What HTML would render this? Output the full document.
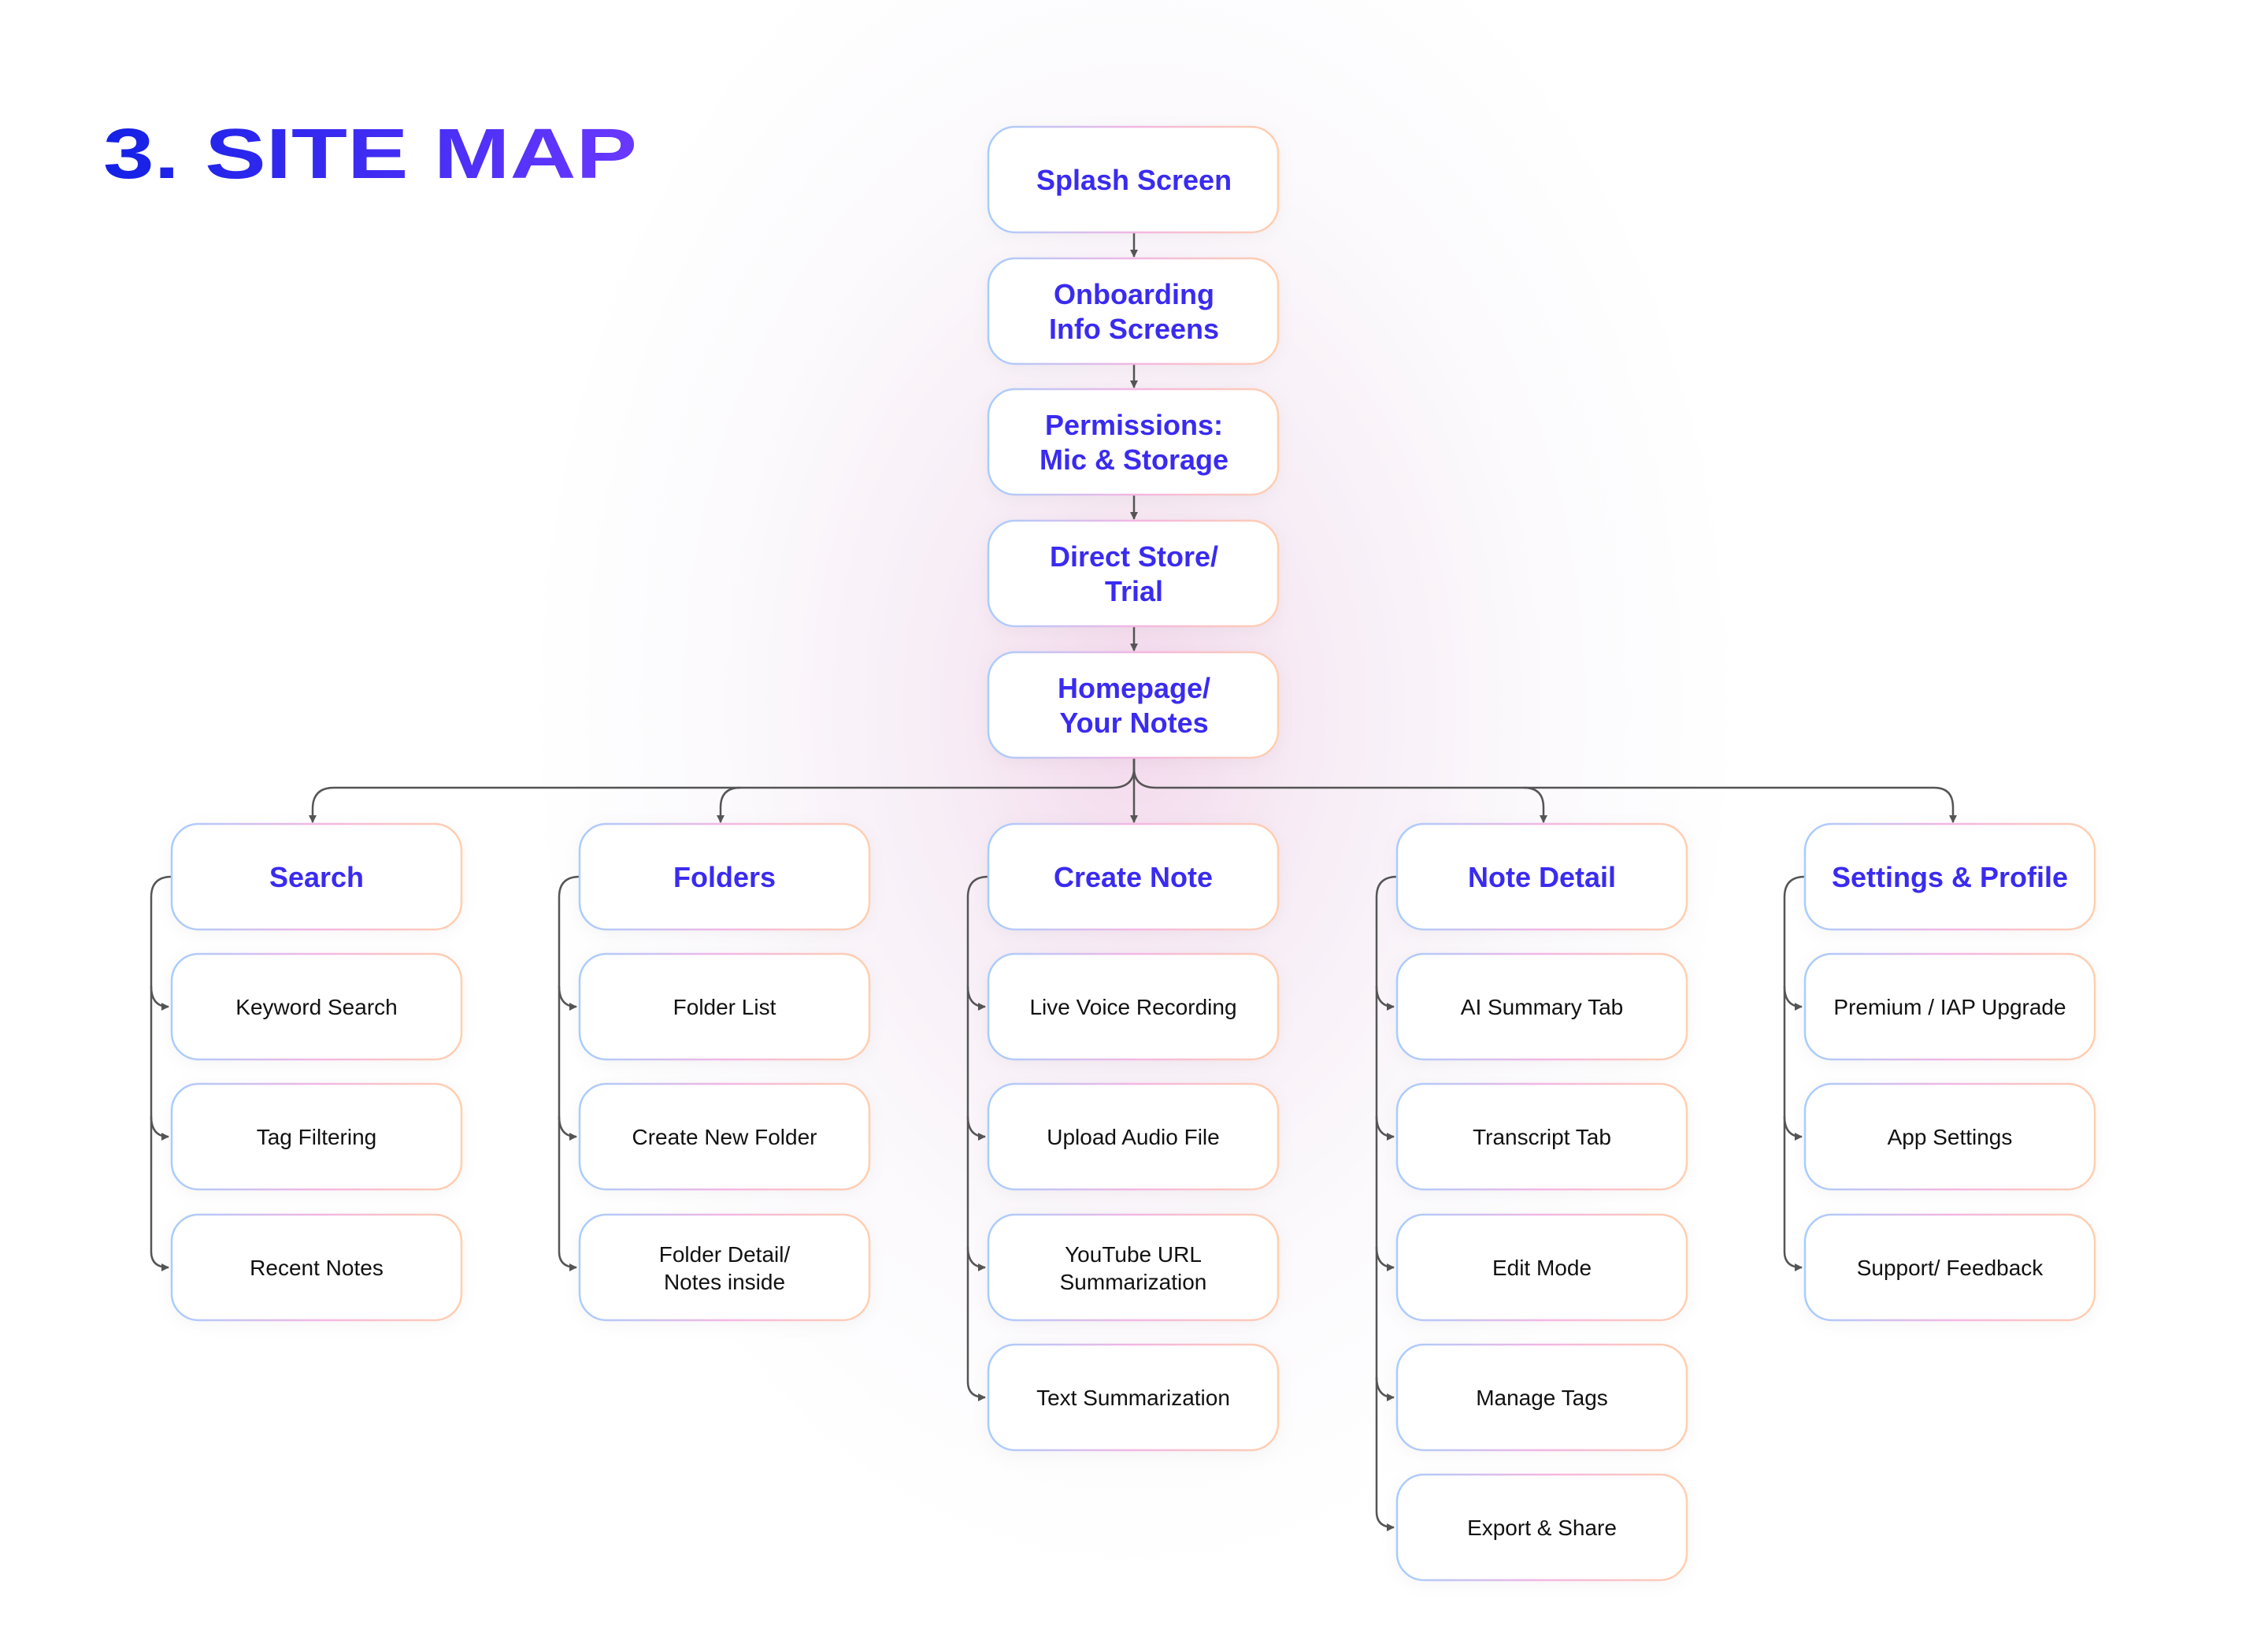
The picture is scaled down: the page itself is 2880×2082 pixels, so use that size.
<!DOCTYPE html>
<html><head><meta charset="utf-8"><style>
html,body{margin:0;padding:0;width:2880px;height:2082px;overflow:hidden;background:#fff;}
svg{display:block}
.h{font-family:"Liberation Sans",sans-serif;font-weight:bold;font-size:36px;fill:#3a2bf0;text-anchor:middle}
.c{font-family:"Liberation Sans",sans-serif;font-size:28px;fill:#111;text-anchor:middle}
.b{fill:#fff;stroke:url(#bd);stroke-width:2.5}
.l{fill:none;stroke:#555;stroke-width:2.5}
</style></head><body>
<svg width="2880" height="2082" viewBox="0 0 2880 2082" xmlns="http://www.w3.org/2000/svg">
<defs>
<radialGradient id="bg" cx="1440" cy="900" r="1100" gradientUnits="userSpaceOnUse" gradientTransform="translate(1440 900) scale(0.7 1) translate(-1440 -900)">
<stop offset="0" stop-color="#f3d8ec"/><stop offset="0.3" stop-color="#f7ecf5"/><stop offset="0.65" stop-color="#fbf9fc"/><stop offset="1" stop-color="#ffffff"/></radialGradient>
<linearGradient id="bd" x1="0" y1="0" x2="1" y2="0"><stop offset="0" stop-color="#a8cdfd"/><stop offset="0.5" stop-color="#f3b6e4"/><stop offset="1" stop-color="#ffcfae"/></linearGradient>
<linearGradient id="tt" x1="131" y1="0" x2="809" y2="0" gradientUnits="userSpaceOnUse"><stop offset="0" stop-color="#1420e6"/><stop offset="1" stop-color="#6a38ff"/></linearGradient>
<marker id="a" viewBox="0 0 10 10" refX="9" refY="5" markerWidth="4" markerHeight="4" orient="auto"><path d="M0 0L10 5L0 10z" fill="#555"/></marker>
<filter id="sh" x="-20%" y="-20%" width="140%" height="140%"><feDropShadow dx="0" dy="4" stdDeviation="10" flood-color="#000" flood-opacity="0.04"/></filter>
</defs>
<rect width="2880" height="2082" fill="url(#bg)"/>
<text x="131" y="226" textLength="678" lengthAdjust="spacingAndGlyphs" font-family="'Liberation Sans',sans-serif" font-weight="bold" font-size="90" fill="url(#tt)">3. SITE MAP</text>

<g class="l">
<path d="M1440 295V326" marker-end="url(#a)"/>
<path d="M1440 462V492" marker-end="url(#a)"/>
<path d="M1440 628V659" marker-end="url(#a)"/>
<path d="M1440 795V826" marker-end="url(#a)"/>
<path d="M1440 962V1044" marker-end="url(#a)"/>
<path d="M1440 962V975Q1440 1000 1412 1000H424Q397 1000 397 1027V1044" marker-end="url(#a)"/>
<path d="M940 1000Q915 1000 915 1025V1044" marker-end="url(#a)"/>
<path d="M1440 962V975Q1440 1000 1468 1000H2456Q2480 1000 2480 1025V1044" marker-end="url(#a)"/>
<path d="M1935 1000Q1960 1000 1960 1025V1044" marker-end="url(#a)"/>
</g>

<g filter="url(#sh)">
<rect class="b" x="1255" y="161" width="368" height="134" rx="34"/>
<rect class="b" x="1255" y="328" width="368" height="134" rx="34"/>
<rect class="b" x="1255" y="494" width="368" height="134" rx="34"/>
<rect class="b" x="1255" y="661" width="368" height="134" rx="34"/>
<rect class="b" x="1255" y="828" width="368" height="134" rx="34"/>
</g>
<text class="h" x="1440" y="241">Splash Screen</text>
<text class="h" x="1440" y="386">Onboarding</text><text class="h" x="1440" y="430">Info Screens</text>
<text class="h" x="1440" y="552">Permissions:</text><text class="h" x="1440" y="596">Mic &amp; Storage</text>
<text class="h" x="1440" y="719">Direct Store/</text><text class="h" x="1440" y="763">Trial</text>
<text class="h" x="1440" y="886">Homepage/</text><text class="h" x="1440" y="930">Your Notes</text>

<g class="l">
<path d="M218 1113Q192 1113 192 1139V1589Q192 1609 214 1609" marker-end="url(#a)"/>
<path d="M192 1252Q192 1278 214 1278" marker-end="url(#a)"/><path d="M192 1417Q192 1443 214 1443" marker-end="url(#a)"/>
<path d="M736 1113Q710 1113 710 1139V1589Q710 1609 732 1609" marker-end="url(#a)"/>
<path d="M710 1252Q710 1278 732 1278" marker-end="url(#a)"/><path d="M710 1417Q710 1443 732 1443" marker-end="url(#a)"/>
<path d="M1255 1113Q1229 1113 1229 1139V1754Q1229 1774 1251 1774" marker-end="url(#a)"/>
<path d="M1229 1252Q1229 1278 1251 1278" marker-end="url(#a)"/><path d="M1229 1417Q1229 1443 1251 1443" marker-end="url(#a)"/><path d="M1229 1583Q1229 1609 1251 1609" marker-end="url(#a)"/>
<path d="M1774 1113Q1748 1113 1748 1139V1919Q1748 1939 1770 1939" marker-end="url(#a)"/>
<path d="M1748 1252Q1748 1278 1770 1278" marker-end="url(#a)"/><path d="M1748 1417Q1748 1443 1770 1443" marker-end="url(#a)"/><path d="M1748 1583Q1748 1609 1770 1609" marker-end="url(#a)"/><path d="M1748 1748Q1748 1774 1770 1774" marker-end="url(#a)"/>
<path d="M2292 1113Q2266 1113 2266 1139V1589Q2266 1609 2288 1609" marker-end="url(#a)"/>
<path d="M2266 1252Q2266 1278 2288 1278" marker-end="url(#a)"/><path d="M2266 1417Q2266 1443 2288 1443" marker-end="url(#a)"/>
</g>

<g filter="url(#sh)">
<rect class="b" x="218" y="1046" width="368" height="134" rx="34"/><rect class="b" x="218" y="1211" width="368" height="134" rx="34"/><rect class="b" x="218" y="1376" width="368" height="134" rx="34"/><rect class="b" x="218" y="1542" width="368" height="134" rx="34"/>
<rect class="b" x="736" y="1046" width="368" height="134" rx="34"/><rect class="b" x="736" y="1211" width="368" height="134" rx="34"/><rect class="b" x="736" y="1376" width="368" height="134" rx="34"/><rect class="b" x="736" y="1542" width="368" height="134" rx="34"/>
<rect class="b" x="1255" y="1046" width="368" height="134" rx="34"/><rect class="b" x="1255" y="1211" width="368" height="134" rx="34"/><rect class="b" x="1255" y="1376" width="368" height="134" rx="34"/><rect class="b" x="1255" y="1542" width="368" height="134" rx="34"/><rect class="b" x="1255" y="1707" width="368" height="134" rx="34"/>
<rect class="b" x="1774" y="1046" width="368" height="134" rx="34"/><rect class="b" x="1774" y="1211" width="368" height="134" rx="34"/><rect class="b" x="1774" y="1376" width="368" height="134" rx="34"/><rect class="b" x="1774" y="1542" width="368" height="134" rx="34"/><rect class="b" x="1774" y="1707" width="368" height="134" rx="34"/><rect class="b" x="1774" y="1872" width="368" height="134" rx="34"/>
<rect class="b" x="2292" y="1046" width="368" height="134" rx="34"/><rect class="b" x="2292" y="1211" width="368" height="134" rx="34"/><rect class="b" x="2292" y="1376" width="368" height="134" rx="34"/><rect class="b" x="2292" y="1542" width="368" height="134" rx="34"/>
</g>

<text class="h" x="402" y="1126">Search</text>
<text class="c" x="402" y="1288">Keyword Search</text>
<text class="c" x="402" y="1453">Tag Filtering</text>
<text class="c" x="402" y="1619">Recent Notes</text>

<text class="h" x="920" y="1126">Folders</text>
<text class="c" x="920" y="1288">Folder List</text>
<text class="c" x="920" y="1453">Create New Folder</text>
<text class="c" x="920" y="1602">Folder Detail/</text><text class="c" x="920" y="1637">Notes inside</text>

<text class="h" x="1439" y="1126">Create Note</text>
<text class="c" x="1439" y="1288">Live Voice Recording</text>
<text class="c" x="1439" y="1453">Upload Audio File</text>
<text class="c" x="1439" y="1602">YouTube URL</text><text class="c" x="1439" y="1637">Summarization</text>
<text class="c" x="1439" y="1784">Text Summarization</text>

<text class="h" x="1958" y="1126">Note Detail</text>
<text class="c" x="1958" y="1288">AI Summary Tab</text>
<text class="c" x="1958" y="1453">Transcript Tab</text>
<text class="c" x="1958" y="1619">Edit Mode</text>
<text class="c" x="1958" y="1784">Manage Tags</text>
<text class="c" x="1958" y="1949">Export &amp; Share</text>

<text class="h" x="2476" y="1126">Settings &amp; Profile</text>
<text class="c" x="2476" y="1288">Premium / IAP Upgrade</text>
<text class="c" x="2476" y="1453">App Settings</text>
<text class="c" x="2476" y="1619">Support/ Feedback</text>
</svg>
</body></html>
